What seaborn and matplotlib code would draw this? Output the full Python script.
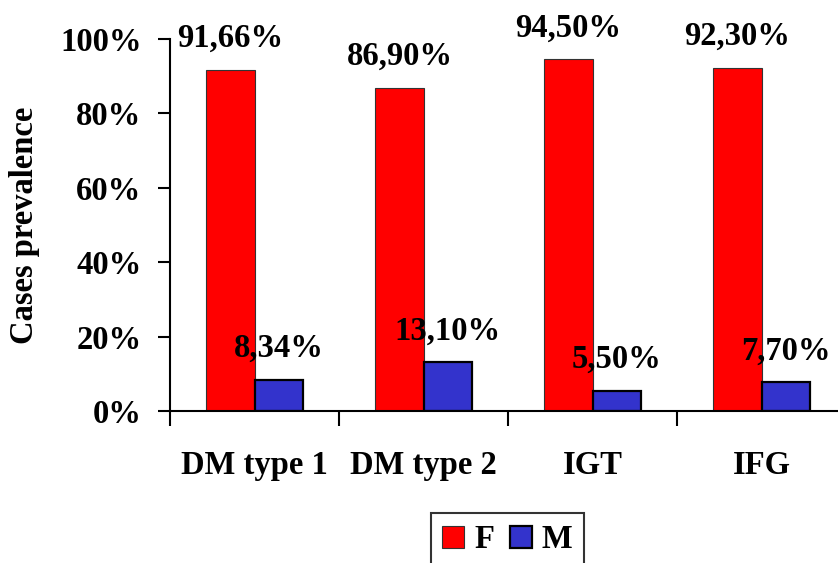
import pandas as pd
import numpy as np
import matplotlib
matplotlib.use("Agg")
import matplotlib.pyplot as plt
from matplotlib.ticker import FixedLocator, FuncFormatter
import seaborn as sns

categories = ["DM type 1", "DM type 2", "IGT", "IFG"]
groups = ["F", "M"]
female = [91.66, 86.90, 94.50, 92.30]
male = [8.34, 13.10, 5.50, 7.70]
y_ticks = [0, 20, 40, 60, 80, 100]
colors = {"F": "#FF0000", "M": "#3333CC"}

df = pd.DataFrame({
    "category": categories * 2,
    "sex": ["F"] * len(categories) + ["M"] * len(categories),
    "value": female + male,
})

sns.set_style("white")
plt.rcParams["font.family"] = ["Liberation Serif", "DejaVu Serif"]
plt.rcParams["font.weight"] = "bold"
plt.rcParams["axes.labelweight"] = "bold"
for key in ["text.color", "axes.labelcolor", "xtick.color", "ytick.color"]:
    plt.rcParams[key] = "black"

fig = plt.figure(figsize=(8.38, 5.63), dpi=100)
ax = fig.add_axes([170 / 838, 152 / 563, 676 / 838, 372 / 563])

sns.barplot(data=df, x="category", y="value", hue="sex", order=categories,
            hue_order=groups, palette=colors, width=0.57, saturation=1,
            ax=ax, legend=False)

# edges: thin grey on red, thicker black on blue
for bar in ax.containers[0]:
    bar.set_edgecolor("#333333")
    bar.set_linewidth(0.8)
for bar in ax.containers[1]:
    bar.set_edgecolor("black")
    bar.set_linewidth(1.6)

fs = 23.5
for cont in ax.containers:
    for bar in cont:
        h = bar.get_height()
        ax.annotate(f"{h:.2f}".replace(".", ",") + "%",
                    (bar.get_x() + bar.get_width() / 2, h),
                    xytext=(0, 16.5), textcoords="offset points",
                    ha="center", va="baseline", fontsize=fs, fontweight="bold")

ax.set_ylim(0, 100)
ax.set_xlim(-0.5, len(categories) - 0.5)
ax.set_yticks(y_ticks)
ax.yaxis.set_major_formatter(FuncFormatter(lambda v, p: f"{int(v)}%"))
ax.tick_params(axis="y", direction="out", length=9, width=1.5, pad=11.5,
               labelsize=fs, left=True)

ax.set_xticks(range(len(categories)))
ax.set_xticklabels(categories)
ax.xaxis.set_minor_locator(FixedLocator(np.arange(-0.5, len(categories), 1.0)))
ax.tick_params(axis="x", which="major", length=0, pad=28, labelsize=fs)
ax.tick_params(axis="x", which="minor", direction="out", length=11, width=1.5,
               bottom=True)

for s in ["top", "right"]:
    ax.spines[s].set_visible(False)
for s in ["left", "bottom"]:
    ax.spines[s].set_linewidth(1.5)
    ax.spines[s].set_color("black")

ax.set_xlabel("")
ax.set_ylabel("Cases prevalence", fontsize=fs, fontweight="bold")
ax.yaxis.set_label_coords(-0.192, 0.5)

handles = [plt.Rectangle((0, 0), 1, 1, facecolor=colors["F"], edgecolor="#333333", linewidth=0.8),
           plt.Rectangle((0, 0), 1, 1, facecolor=colors["M"], edgecolor="black", linewidth=1.6)]
leg = fig.legend(handles, groups, loc="upper center", bbox_to_anchor=(0.6056, 0.0888),
                 ncol=2, fontsize=fs, frameon=True, fancybox=False,
                 handlelength=0.67, handleheight=0.64, handletextpad=0.3,
                 columnspacing=0.5, borderpad=0.35, borderaxespad=0)
leg.get_frame().set_edgecolor("black")
leg.get_frame().set_linewidth(1.5)

fig.savefig("out.png", dpi=100)
